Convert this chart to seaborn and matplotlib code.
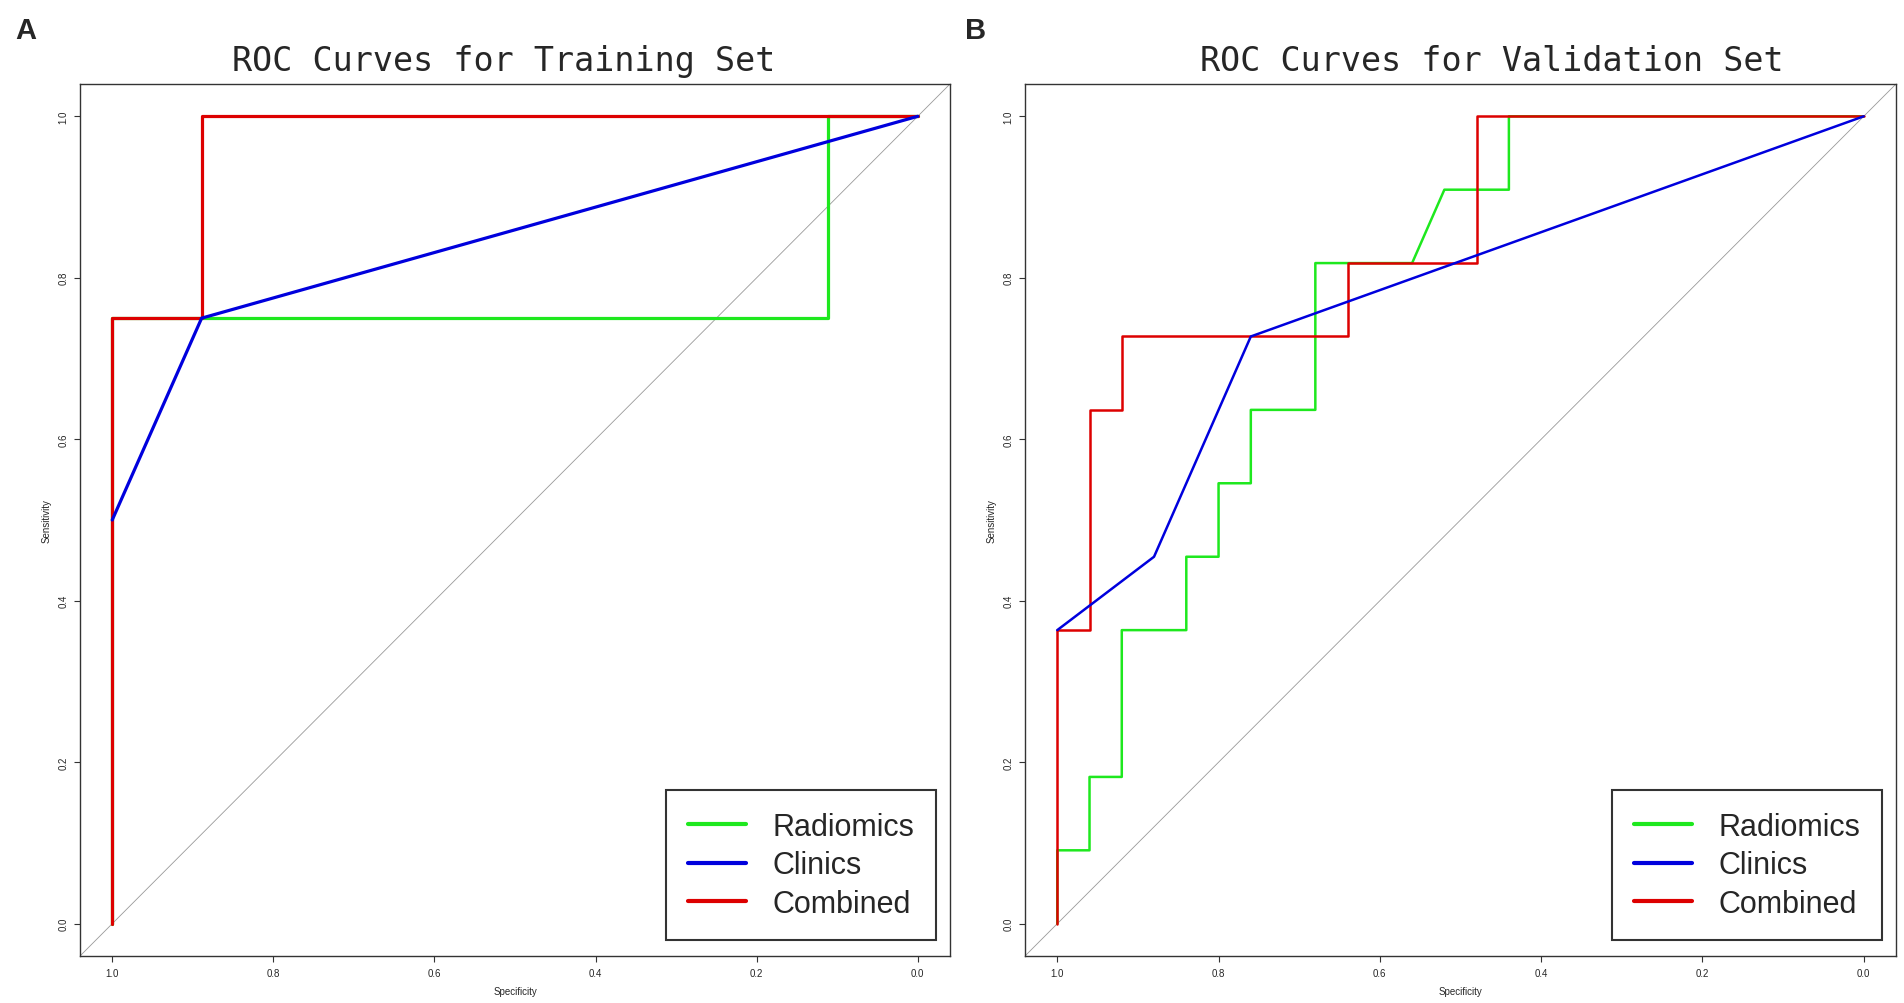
import matplotlib
matplotlib.use("Agg")
import numpy as np
import pandas as pd
import matplotlib.pyplot as plt
from matplotlib.lines import Line2D
import seaborn as sns

sns.set_style("white")
plt.rcParams['font.family'] = ['Liberation Sans', 'DejaVu Sans']

# ROC points (specificity, sensitivity)
# training set
train_rad_spec = [1.0, 1.0, 0.889, 0.111, 0.111, 0.0]
train_rad_sens = [0.0, 0.75, 0.75, 0.75, 1.0, 1.0]
train_cli_spec = [1.0, 0.889, 0.0]
train_cli_sens = [0.5, 0.75, 1.0]
train_com_spec = [1.0, 1.0, 0.889, 0.889, 0.0]
train_com_sens = [0.0, 0.75, 0.75, 1.0, 1.0]

# validation set
val_rad_spec = [1.0, 1.0, 0.96, 0.96, 0.92, 0.92, 0.84, 0.84, 0.80, 0.80, 0.76, 0.76,
                0.68, 0.68, 0.56, 0.52, 0.44, 0.44, 0.0]
val_rad_sens = [0.0, 0.0909, 0.0909, 0.1818, 0.1818, 0.3636, 0.3636, 0.4545, 0.4545,
                0.5455, 0.5455, 0.6364, 0.6364, 0.8182, 0.8182, 0.9091, 0.9091, 1.0, 1.0]
val_cli_spec = [1.0, 0.88, 0.76, 0.0]
val_cli_sens = [0.3636, 0.4545, 0.7273, 1.0]
val_com_spec = [1.0, 1.0, 0.96, 0.96, 0.92, 0.92, 0.64, 0.64, 0.48, 0.48, 0.0]
val_com_sens = [0.0, 0.3636, 0.3636, 0.6364, 0.6364, 0.7273, 0.7273, 0.8182, 0.8182, 1.0, 1.0]

models = ["Radiomics", "Clinics", "Combined"]
colors = {"Radiomics": "#1ee81e", "Clinics": "#0000dd", "Combined": "#dd0000"}
zorders = {"Radiomics": 2, "Combined": 3, "Clinics": 4}

panels = [
    ("A", "ROC Curves for Training Set",
     {"Radiomics": (train_rad_spec, train_rad_sens),
      "Clinics": (train_cli_spec, train_cli_sens),
      "Combined": (train_com_spec, train_com_sens)}, 2.3),
    ("B", "ROC Curves for Validation Set",
     {"Radiomics": (val_rad_spec, val_rad_sens),
      "Clinics": (val_cli_spec, val_cli_sens),
      "Combined": (val_com_spec, val_com_sens)}, 1.8),
]

W, H = 1904, 1004
fig = plt.figure(figsize=(W / 100, H / 100), dpi=100)

ax_px = [(80, 950), (1025, 1896)]
title_px = [504, 1492]
letter_px = [15, 965]
top_px, bot_px = 85, 957

for (letter, title, curves, lw), (x0, x1), tx, lx in zip(panels, ax_px, title_px, letter_px):
    ax = fig.add_axes([x0 / W, 1 - bot_px / H, (x1 - x0) / W, (bot_px - top_px) / H])

    for name in ["Radiomics", "Combined", "Clinics"]:
        spec, sens = curves[name]
        df = pd.DataFrame({"Specificity": spec, "Sensitivity": sens})
        sns.lineplot(data=df, x="Specificity", y="Sensitivity", ax=ax, sort=False,
                     estimator=None, color=colors[name], lw=lw, zorder=zorders[name])

    ax.axline((1, 0), slope=-1, color="#999999", lw=0.6, zorder=1)

    ax.set_xlim(1.04, -0.04)
    ax.set_ylim(-0.04, 1.04)
    ticks = [0.0, 0.2, 0.4, 0.6, 0.8, 1.0]
    ax.set_xticks(ticks)
    ax.set_xticklabels([f"{t:.1f}" for t in ticks])
    ax.set_yticks(ticks)
    ax.set_yticklabels([f"{t:.1f}" for t in ticks], rotation=90, va="center")
    ax.tick_params(axis="both", labelsize=7, length=4.5, width=0.8, color="#333333",
                   direction="out", left=True, bottom=True)
    ax.tick_params(axis="x", pad=4)
    ax.tick_params(axis="y", pad=4)
    ax.set_xlabel("Specificity", fontsize=7, labelpad=6)
    ax.set_ylabel("Sensitivity", fontsize=7, labelpad=5)
    for sp in ax.spines.values():
        sp.set_visible(True)
        sp.set_color("#333333")
        sp.set_linewidth(1.0)

    handles = [Line2D([0], [0], color=colors[m], lw=3) for m in models]
    leg = ax.legend(handles, models, loc="lower right", bbox_to_anchor=(0.984, 0.018),
                    borderaxespad=0, fontsize=22, handlelength=1.9, handletextpad=0.88,
                    borderpad=0.7, labelspacing=0.28, frameon=True, fancybox=False)
    leg.get_frame().set_edgecolor("black")
    leg.get_frame().set_linewidth(1.5)

    fig.text(tx / W, 1 - 71 / H, title, ha="center", va="baseline",
             fontsize=24, family="DejaVu Sans Mono")
    fig.text(lx / W, 1 - 39 / H, letter, ha="left", va="baseline",
             fontsize=21, fontweight="bold")

fig.savefig("out.png", dpi=100)
